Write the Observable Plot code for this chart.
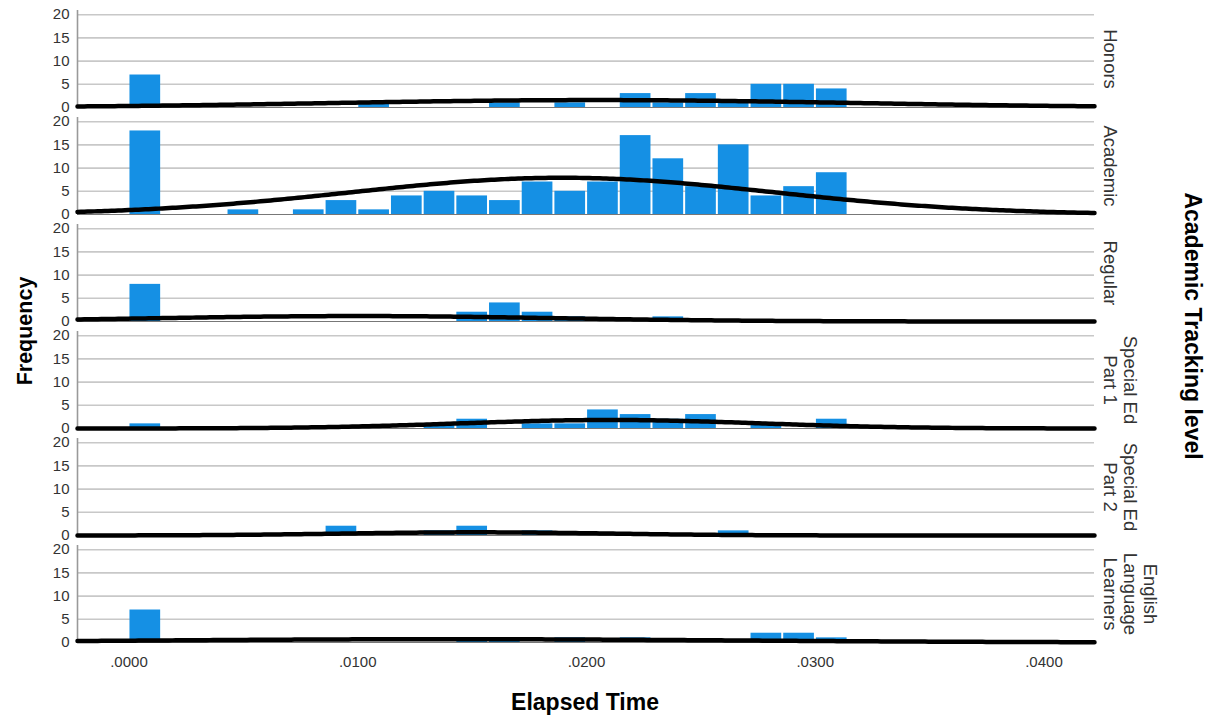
<!DOCTYPE html>
<html>
<head>
<meta charset="utf-8">
<script src="https://cdn.jsdelivr.net/npm/d3@7"></script>
<script src="https://cdn.jsdelivr.net/npm/@observablehq/plot@0.6"></script>
<style>
  html, body { margin: 0; padding: 0; background: #fff; }
  #chart { width: 1219px; height: 721px; }
</style>
</head>
<body>
<div id="chart"></div>
<script>
// ---- data ----
const levels = ["Honors", "Academic", "Regular", "Special Ed Part 1", "Special Ed Part 2", "English Language Learners"];
const levelLabels = ["Honors", "Academic", "Regular", "Special Ed\nPart 1", "Special Ed\nPart 2", "English\nLanguage\nLearners"];
const binWidth = 0.001429; // width of each histogram bin (Elapsed Time)
// counts per bin (bin k covers [k*binWidth, (k+1)*binWidth])
const honorsCounts   = [7,0,0,0,0,0,0,1,0,0,0,1,0,1,0,3,1,3,1,5,5,4];
const academicCounts = [18,0,0,1,0,1,3,1,4,5,4,3,7,5,7,17,12,6,15,4,6,9];
const regularCounts  = [8,0,0,0,0,0,0,0,0,0,2,4,2,1,0,0,1,0,0,0,0,0];
const sped1Counts    = [1,0,0,0,0,0,0,0,0,1,2,0,1,1,4,3,2,3,0,1,0,2];
const sped2Counts    = [0,0,0,0,0,0,2,0,0,1,2,0,1,0,0,0,0,0,1,0,0,0];
const ellCounts      = [7,0,0,0,0,0,0,0,0,0,1,1,0,1,0,1,0,0,0,2,2,1];
const xTicks = [0, 0.01, 0.02, 0.03, 0.04];
const xTickLabels = [".0000", ".0100", ".0200", ".0300", ".0400"];
const yTicks = [0, 5, 10, 15, 20];

const xDomain = [-0.00225, 0.04221];
const countsByLevel = [honorsCounts, academicCounts, regularCounts, sped1Counts, sped2Counts, ellCounts];

// histogram table
const bars = [];
levels.forEach((lev, li) => {
  countsByLevel[li].forEach((c, k) => {
    if (c > 0) bars.push({level: lev, x1: k * binWidth, x2: (k + 1) * binWidth, count: c});
  });
});

// fitted normal curve (from the histogram's mean / sd), scaled to counts per bin
const curve = [];
levels.forEach((lev, li) => {
  const counts = countsByLevel[li];
  const n = d3.sum(counts);
  const mids = counts.map((c, k) => (k + 0.5) * binWidth);
  const mean = d3.sum(counts, (c, k) => c * mids[k]) / n;
  const sd = Math.sqrt(d3.sum(counts, (c, k) => c * (mids[k] - mean) ** 2) / (n - 1));
  const N = 300;
  for (let i = 0; i <= N; i++) {
    const x = xDomain[0] + (xDomain[1] - xDomain[0]) * i / N;
    const z = (x - mean) / sd;
    const y = n * binWidth * Math.exp(-0.5 * z * z) / (sd * Math.sqrt(2 * Math.PI));
    curve.push({level: lev, x, y});
  }
});

const labelOf = new Map(levels.map((l, i) => [l, levelLabels[i]]));
const font = "'Liberation Sans', Arial, Helvetica, sans-serif";

const svg = Plot.plot({
  width: 1219,
  height: 721,
  marginLeft: 77,
  marginRight: 125,
  marginTop: 10,
  marginBottom: 79,
  style: {fontFamily: font, fontSize: "15px", color: "#333", background: "#fff"},
  x: {domain: xDomain, ticks: xTicks, tickFormat: d => xTickLabels[xTicks.indexOf(d)], tickSize: 0, tickPadding: 14, label: null},
  y: {domain: [0, 20.9], ticks: yTicks, tickSize: 0, tickPadding: 8, label: null},
  fy: {domain: levels, paddingInner: 0.0935, paddingOuter: 0, axis: null, label: null},
  marks: [
    Plot.ruleY([5, 10, 15, 20], {stroke: "#c8c8c8", strokeWidth: 1.6}),
    Plot.rectY(bars, {x1: "x1", x2: "x2", y: "count", fy: "level", fill: "#1590e4", insetLeft: 1, insetRight: 1}),
    Plot.ruleY([0], {stroke: "#777", strokeWidth: 1}),
    Plot.ruleX([xDomain[0]], {stroke: "#999", strokeWidth: 1.6}),
    Plot.line(curve, {x: "x", y: "y", fy: "level", stroke: "#000", strokeWidth: 4.5}),
    Plot.text(levels, {fy: d => d, text: d => labelOf.get(d), frameAnchor: "right", dx: 9, rotate: 90,
      textAnchor: "middle", lineAnchor: "bottom", lineHeight: 1.1, fontSize: 18.5, fill: "#333"})
  ]
});

const s = d3.select(svg);
s.append("text")
  .attr("transform", "translate(32,331) rotate(-90)")
  .attr("text-anchor", "middle")
  .attr("font-family", font).attr("font-size", 21.5).attr("font-weight", "bold").attr("fill", "#000")
  .text("Frequency");
s.append("text")
  .attr("x", 585).attr("y", 710)
  .attr("text-anchor", "middle")
  .attr("font-family", font).attr("font-size", 23).attr("font-weight", "bold").attr("fill", "#000")
  .text("Elapsed Time");
s.append("text")
  .attr("transform", "translate(1185,326) rotate(90)")
  .attr("text-anchor", "middle")
  .attr("font-family", font).attr("font-size", 23).attr("font-weight", "bold").attr("fill", "#000")
  .text("Academic Tracking level");

document.getElementById("chart").appendChild(svg);
</script>
</body>
</html>
